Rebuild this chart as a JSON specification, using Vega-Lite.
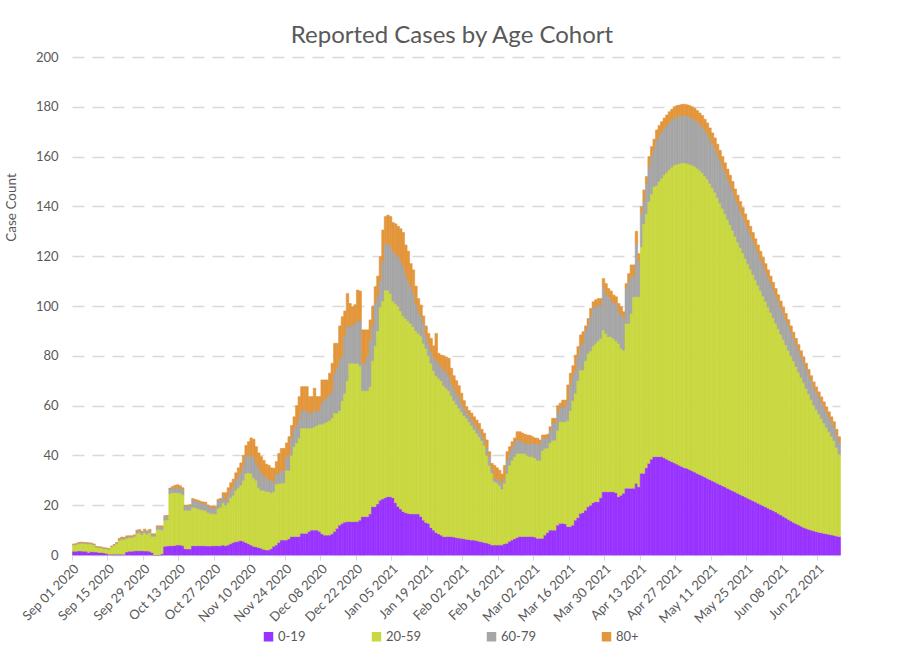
{
"$schema": "https://vega.github.io/schema/vega-lite/v6.json",
"width": 768, "height": 498,
"autosize": {"type": "none"},
"padding": {"left": 72, "top": 57, "right": 68, "bottom": 111},
"background": "white",
"config": {"view": {"stroke": null}},
"title": {"text": "Reported Cases by Age Cohort", "fontSize": 24, "font": "Lato", "fontWeight": "normal", "color": "#595959", "anchor": "middle", "offset": 3, "dx": -4},
"data": {"values": [
{"t":"2020-09-01","a":1.5,"b":2.5,"c":0.3,"d":0},
{"t":"2020-09-02","a":1.5,"b":2.7,"c":0.3,"d":0},
{"t":"2020-09-03","a":1.6,"b":3.0,"c":0.4,"d":0},
{"t":"2020-09-04","a":1.6,"b":3.1,"c":0.4,"d":0},
{"t":"2020-09-05","a":1.5,"b":3.2,"c":0.3,"d":0},
{"t":"2020-09-06","a":1.5,"b":3.0,"c":0.4,"d":0},
{"t":"2020-09-07","a":1.0,"b":3.5,"c":0.3,"d":0},
{"t":"2020-09-08","a":1.4,"b":3.0,"c":0.3,"d":0},
{"t":"2020-09-09","a":1.2,"b":2.8,"c":0.3,"d":0},
{"t":"2020-09-10","a":1.2,"b":2.0,"c":0.2,"d":0},
{"t":"2020-09-11","a":1.0,"b":2.0,"c":0.2,"d":0},
{"t":"2020-09-12","a":1.0,"b":1.9,"c":0.2,"d":0},
{"t":"2020-09-13","a":0.8,"b":1.8,"c":0.2,"d":0},
{"t":"2020-09-14","a":0.6,"b":1.9,"c":0.2,"d":0},
{"t":"2020-09-15","a":0.3,"b":2.0,"c":0.2,"d":0},
{"t":"2020-09-16","a":0.3,"b":3.0,"c":0.2,"d":0},
{"t":"2020-09-17","a":0.3,"b":3.6,"c":0.3,"d":0},
{"t":"2020-09-18","a":0.3,"b":4.3,"c":0.4,"d":0},
{"t":"2020-09-19","a":0.3,"b":5.5,"c":0.5,"d":0.4},
{"t":"2020-09-20","a":0.3,"b":6.0,"c":0.5,"d":0.4},
{"t":"2020-09-21","a":0.3,"b":6.0,"c":0.5,"d":0.3},
{"t":"2020-09-22","a":1.2,"b":5.6,"c":0.6,"d":0.3},
{"t":"2020-09-23","a":1.5,"b":5.5,"c":0.5,"d":0.2},
{"t":"2020-09-24","a":1.5,"b":5.5,"c":0.5,"d":0.2},
{"t":"2020-09-25","a":1.6,"b":5.8,"c":0.5,"d":0.2},
{"t":"2020-09-26","a":1.7,"b":7.0,"c":1.0,"d":0.3},
{"t":"2020-09-27","a":1.7,"b":7.2,"c":1.0,"d":0.3},
{"t":"2020-09-28","a":1.7,"b":6.5,"c":1.0,"d":0.3},
{"t":"2020-09-29","a":1.6,"b":7.5,"c":1.0,"d":0.3},
{"t":"2020-09-30","a":1.6,"b":6.8,"c":1.0,"d":0.3},
{"t":"2020-10-01","a":1.5,"b":7.5,"c":1.0,"d":0.3},
{"t":"2020-10-02","a":1.0,"b":6.5,"c":0.8,"d":0.2},
{"t":"2020-10-03","a":0,"b":7.5,"c":0.9,"d":0},
{"t":"2020-10-04","a":0,"b":10.3,"c":1.2,"d":0.2},
{"t":"2020-10-05","a":0,"b":10.3,"c":1.2,"d":0.2},
{"t":"2020-10-06","a":0.5,"b":9.5,"c":1.4,"d":0.3},
{"t":"2020-10-07","a":3.5,"b":10.5,"c":1.5,"d":0.3},
{"t":"2020-10-08","a":3.6,"b":10.5,"c":1.5,"d":0.3},
{"t":"2020-10-09","a":3.7,"b":21.0,"c":1.8,"d":0.4},
{"t":"2020-10-10","a":3.7,"b":21.3,"c":2.0,"d":0.5},
{"t":"2020-10-11","a":3.8,"b":21.3,"c":2.0,"d":0.9},
{"t":"2020-10-12","a":4.0,"b":21.0,"c":2.2,"d":1.0},
{"t":"2020-10-13","a":4.0,"b":21.0,"c":2.0,"d":0.8},
{"t":"2020-10-14","a":3.8,"b":20.5,"c":2.0,"d":0.7},
{"t":"2020-10-15","a":2.5,"b":15.5,"c":1.7,"d":0.3},
{"t":"2020-10-16","a":2.4,"b":15.6,"c":1.8,"d":0.3},
{"t":"2020-10-17","a":2.4,"b":15.6,"c":2.0,"d":0.2},
{"t":"2020-10-18","a":3.7,"b":15.5,"c":3.0,"d":0.5},
{"t":"2020-10-19","a":3.7,"b":15.3,"c":2.8,"d":0.5},
{"t":"2020-10-20","a":3.7,"b":15.0,"c":2.8,"d":0.5},
{"t":"2020-10-21","a":3.7,"b":14.6,"c":2.8,"d":0.5},
{"t":"2020-10-22","a":3.7,"b":14.4,"c":2.7,"d":0.5},
{"t":"2020-10-23","a":3.7,"b":14.2,"c":2.7,"d":0.6},
{"t":"2020-10-24","a":3.6,"b":13.5,"c":2.5,"d":0.5},
{"t":"2020-10-25","a":3.6,"b":13.0,"c":2.6,"d":0.5},
{"t":"2020-10-26","a":3.7,"b":13.0,"c":2.5,"d":0.5},
{"t":"2020-10-27","a":3.7,"b":12.8,"c":2.5,"d":0.5},
{"t":"2020-10-28","a":3.7,"b":15.0,"c":3.0,"d":0.7},
{"t":"2020-10-29","a":3.7,"b":15.5,"c":2.8,"d":0.7},
{"t":"2020-10-30","a":4.0,"b":17.0,"c":3.0,"d":1.0},
{"t":"2020-10-31","a":3.7,"b":16.3,"c":2,"d":3},
{"t":"2020-11-01","a":4,"b":17,"c":3,"d":3},
{"t":"2020-11-02","a":4.5,"b":18.5,"c":3,"d":3},
{"t":"2020-11-03","a":5,"b":19,"c":3.5,"d":3},
{"t":"2020-11-04","a":5.3,"b":20.7,"c":4,"d":3},
{"t":"2020-11-05","a":5.5,"b":21.5,"c":4.5,"d":3.5},
{"t":"2020-11-06","a":5.8,"b":22.2,"c":5,"d":4},
{"t":"2020-11-07","a":5.5,"b":24.5,"c":6,"d":4},
{"t":"2020-11-08","a":5.0,"b":27.8,"c":6.7,"d":4.5},
{"t":"2020-11-09","a":4.5,"b":28.5,"c":7,"d":5.5},
{"t":"2020-11-10","a":4.0,"b":28.8,"c":7.2,"d":7},
{"t":"2020-11-11","a":3.5,"b":27.5,"c":8.5,"d":7},
{"t":"2020-11-12","a":3.3,"b":26.7,"c":7,"d":6.5},
{"t":"2020-11-13","a":3.0,"b":24,"c":8,"d":6},
{"t":"2020-11-14","a":2.7,"b":23.3,"c":7,"d":6.5},
{"t":"2020-11-15","a":2.3,"b":23.7,"c":6,"d":6},
{"t":"2020-11-16","a":2.0,"b":23.5,"c":5.5,"d":5.5},
{"t":"2020-11-17","a":2.0,"b":23.5,"c":5,"d":5.5},
{"t":"2020-11-18","a":2.5,"b":22.5,"c":5,"d":5},
{"t":"2020-11-19","a":3.5,"b":22,"c":4,"d":5.3},
{"t":"2020-11-20","a":4.0,"b":24.5,"c":4,"d":5},
{"t":"2020-11-21","a":5.0,"b":23.8,"c":4,"d":8},
{"t":"2020-11-22","a":6.0,"b":22.8,"c":5,"d":9},
{"t":"2020-11-23","a":6.0,"b":23,"c":5,"d":8.8},
{"t":"2020-11-24","a":6.0,"b":28,"c":5.5,"d":5.5},
{"t":"2020-11-25","a":6.5,"b":27.5,"c":6,"d":7.5},
{"t":"2020-11-26","a":7.4,"b":32.6,"c":7,"d":5},
{"t":"2020-11-27","a":7.4,"b":36.1,"c":7.4,"d":4.6},
{"t":"2020-11-28","a":7.4,"b":37.6,"c":7,"d":8},
{"t":"2020-11-29","a":7.4,"b":39.6,"c":8,"d":8.6},
{"t":"2020-11-30","a":8.7,"b":42.3,"c":7,"d":9.6},
{"t":"2020-12-01","a":8.7,"b":42.3,"c":7,"d":9.6},
{"t":"2020-12-02","a":8.7,"b":42.3,"c":7,"d":9.6},
{"t":"2020-12-03","a":9.5,"b":41.5,"c":6,"d":6.6},
{"t":"2020-12-04","a":10,"b":41,"c":6,"d":6.6},
{"t":"2020-12-05","a":10,"b":41.5,"c":6.5,"d":9},
{"t":"2020-12-06","a":10,"b":42,"c":6,"d":5.6},
{"t":"2020-12-07","a":9.5,"b":43,"c":5.5,"d":5.6},
{"t":"2020-12-08","a":8.5,"b":44,"c":8.5,"d":9.3},
{"t":"2020-12-09","a":8,"b":45,"c":9.5,"d":7.8},
{"t":"2020-12-10","a":8,"b":45.5,"c":10.1,"d":6.7},
{"t":"2020-12-11","a":8,"b":46,"c":10,"d":9},
{"t":"2020-12-12","a":8.5,"b":46.5,"c":11,"d":11},
{"t":"2020-12-13","a":9.5,"b":47.5,"c":16,"d":12},
{"t":"2020-12-14","a":10.7,"b":46.3,"c":18,"d":10},
{"t":"2020-12-15","a":12,"b":46,"c":20,"d":14},
{"t":"2020-12-16","a":12.7,"b":49.3,"c":18,"d":15.7},
{"t":"2020-12-17","a":13.2,"b":51.8,"c":23,"d":10},
{"t":"2020-12-18","a":13.4,"b":56.6,"c":21.7,"d":13.3},
{"t":"2020-12-19","a":13.4,"b":63.6,"c":15,"d":9},
{"t":"2020-12-20","a":13.4,"b":63.6,"c":15,"d":7.7},
{"t":"2020-12-21","a":13.4,"b":63.6,"c":16,"d":7.5},
{"t":"2020-12-22","a":13.4,"b":63.6,"c":17,"d":12.4},
{"t":"2020-12-23","a":14,"b":62,"c":18,"d":12},
{"t":"2020-12-24","a":15.4,"b":50.6,"c":11,"d":13.4},
{"t":"2020-12-25","a":15.4,"b":50.6,"c":11,"d":13.4},
{"t":"2020-12-26","a":15.4,"b":50.6,"c":14,"d":10.4},
{"t":"2020-12-27","a":16.5,"b":51.1,"c":18.4,"d":8.4},
{"t":"2020-12-28","a":19.4,"b":58.6,"c":14,"d":8},
{"t":"2020-12-29","a":19.4,"b":64.6,"c":17,"d":6.8},
{"t":"2020-12-30","a":20.5,"b":69.5,"c":14,"d":8},
{"t":"2020-12-31","a":22,"b":77.7,"c":10.3,"d":9.8},
{"t":"2021-01-01","a":22.5,"b":79.5,"c":16,"d":12.5},
{"t":"2021-01-02","a":23,"b":83.4,"c":18.6,"d":10.9},
{"t":"2021-01-03","a":23.4,"b":83,"c":18.6,"d":11.5},
{"t":"2021-01-04","a":23.4,"b":81.6,"c":19,"d":11.9},
{"t":"2021-01-05","a":23,"b":79,"c":20,"d":11.5},
{"t":"2021-01-06","a":21,"b":80,"c":20,"d":12},
{"t":"2021-01-07","a":19.5,"b":80.5,"c":20,"d":12},
{"t":"2021-01-08","a":18.5,"b":79.5,"c":20,"d":13},
{"t":"2021-01-09","a":17.5,"b":78.5,"c":20,"d":13.5},
{"t":"2021-01-10","a":17,"b":78,"c":18,"d":11.5},
{"t":"2021-01-11","a":16.7,"b":77.3,"c":16,"d":12},
{"t":"2021-01-12","a":16.5,"b":76.5,"c":15,"d":9},
{"t":"2021-01-13","a":16.5,"b":75.2,"c":13.3,"d":9.5},
{"t":"2021-01-14","a":16.5,"b":73.5,"c":11,"d":7},
{"t":"2021-01-15","a":16.5,"b":72.5,"c":9,"d":5},
{"t":"2021-01-16","a":15.5,"b":72.5,"c":8,"d":4.4},
{"t":"2021-01-17","a":14,"b":71,"c":8,"d":3},
{"t":"2021-01-18","a":13,"b":70,"c":5,"d":4},
{"t":"2021-01-19","a":12.7,"b":67.3,"c":5,"d":4},
{"t":"2021-01-20","a":11,"b":66,"c":5,"d":5},
{"t":"2021-01-21","a":10,"b":64,"c":5.7,"d":4.3},
{"t":"2021-01-22","a":9,"b":63,"c":6,"d":11},
{"t":"2021-01-23","a":8.5,"b":62.5,"c":6,"d":4},
{"t":"2021-01-24","a":8,"b":62,"c":5.6,"d":4.7},
{"t":"2021-01-25","a":7.4,"b":60.6,"c":6.5,"d":5.5},
{"t":"2021-01-26","a":7.4,"b":59.6,"c":6.5,"d":6},
{"t":"2021-01-27","a":7.4,"b":58.6,"c":6,"d":7},
{"t":"2021-01-28","a":7.4,"b":56.6,"c":5,"d":6},
{"t":"2021-01-29","a":7.2,"b":54.8,"c":5,"d":5},
{"t":"2021-01-30","a":7,"b":53.5,"c":4.5,"d":5},
{"t":"2021-01-31","a":6.8,"b":52.2,"c":4.5,"d":4.5},
{"t":"2021-02-01","a":6.7,"b":50.8,"c":3.5,"d":4},
{"t":"2021-02-02","a":6.5,"b":49.5,"c":3,"d":3},
{"t":"2021-02-03","a":6.3,"b":48.7,"c":2.5,"d":2.1},
{"t":"2021-02-04","a":6.2,"b":47.3,"c":2.5,"d":2},
{"t":"2021-02-05","a":6,"b":46,"c":2.5,"d":2.5},
{"t":"2021-02-06","a":6,"b":44.5,"c":2.5,"d":2.5},
{"t":"2021-02-07","a":5.8,"b":43.2,"c":2.5,"d":2.7},
{"t":"2021-02-08","a":5.5,"b":42,"c":2.5,"d":2.9},
{"t":"2021-02-09","a":5.3,"b":40.7,"c":2.5,"d":2},
{"t":"2021-02-10","a":5,"b":39,"c":2.2,"d":2.7},
{"t":"2021-02-11","a":4.8,"b":35.2,"c":3,"d":3.2},
{"t":"2021-02-12","a":4.5,"b":31.5,"c":3.5,"d":2},
{"t":"2021-02-13","a":4,"b":29,"c":2,"d":1.8},
{"t":"2021-02-14","a":4,"b":25.5,"c":1.5,"d":5},
{"t":"2021-02-15","a":4,"b":25,"c":1.5,"d":4.5},
{"t":"2021-02-16","a":4,"b":24,"c":2,"d":4},
{"t":"2021-02-17","a":4,"b":22.5,"c":2.5,"d":3.5},
{"t":"2021-02-18","a":4.5,"b":24.3,"c":2.2,"d":5},
{"t":"2021-02-19","a":4.7,"b":28.1,"c":5.2,"d":3.5},
{"t":"2021-02-20","a":5.5,"b":30.5,"c":4.8,"d":2.7},
{"t":"2021-02-21","a":6,"b":32,"c":5,"d":2.5},
{"t":"2021-02-22","a":6.5,"b":33,"c":5.5,"d":2},
{"t":"2021-02-23","a":7,"b":33.8,"c":5.4,"d":3.3},
{"t":"2021-02-24","a":7.4,"b":33.4,"c":5.4,"d":3.3},
{"t":"2021-02-25","a":7.4,"b":33.4,"c":4.7,"d":3.5},
{"t":"2021-02-26","a":7.4,"b":33.4,"c":4.2,"d":3.5},
{"t":"2021-02-27","a":7.4,"b":32.6,"c":4.8,"d":3.4},
{"t":"2021-02-28","a":7.4,"b":32.1,"c":5.3,"d":3.2},
{"t":"2021-03-01","a":7.4,"b":32.1,"c":5.3,"d":2.7},
{"t":"2021-03-02","a":7.2,"b":31.8,"c":5.8,"d":2.2},
{"t":"2021-03-03","a":6.7,"b":31.3,"c":6.5,"d":2.4},
{"t":"2021-03-04","a":6.7,"b":31.3,"c":6.5,"d":1.7},
{"t":"2021-03-05","a":6.7,"b":35.3,"c":5,"d":1.2},
{"t":"2021-03-06","a":8,"b":34.8,"c":4.2,"d":1.2},
{"t":"2021-03-07","a":9,"b":34,"c":4,"d":1.5},
{"t":"2021-03-08","a":10,"b":35,"c":5,"d":1.5},
{"t":"2021-03-09","a":10,"b":36,"c":6.9,"d":2},
{"t":"2021-03-10","a":10,"b":36.2,"c":6.7,"d":2},
{"t":"2021-03-11","a":12,"b":38,"c":7,"d":3},
{"t":"2021-03-12","a":12.7,"b":40.8,"c":6.1,"d":1.4},
{"t":"2021-03-13","a":12.7,"b":40.8,"c":6.1,"d":2.6},
{"t":"2021-03-14","a":12.5,"b":41,"c":6.1,"d":2.6},
{"t":"2021-03-15","a":11.4,"b":42.6,"c":8,"d":6.3},
{"t":"2021-03-16","a":11.4,"b":46.6,"c":10,"d":5},
{"t":"2021-03-17","a":12,"b":50,"c":10,"d":4},
{"t":"2021-03-18","a":14,"b":51,"c":9.3,"d":6},
{"t":"2021-03-19","a":15,"b":55,"c":10,"d":3.7},
{"t":"2021-03-20","a":16.7,"b":57.6,"c":9.4,"d":4.7},
{"t":"2021-03-21","a":17,"b":57.3,"c":10.7,"d":4.7},
{"t":"2021-03-22","a":18,"b":60,"c":12,"d":2},
{"t":"2021-03-23","a":19.4,"b":61.6,"c":11.5,"d":2.5},
{"t":"2021-03-24","a":20,"b":62,"c":14,"d":3},
{"t":"2021-03-25","a":21,"b":63,"c":15,"d":2.7},
{"t":"2021-03-26","a":21.4,"b":63.6,"c":15,"d":2.5},
{"t":"2021-03-27","a":21.4,"b":64.6,"c":14.4,"d":2.6},
{"t":"2021-03-28","a":23,"b":64,"c":13.4,"d":2.6},
{"t":"2021-03-29","a":25.4,"b":65,"c":17.4,"d":3.2},
{"t":"2021-03-30","a":25.4,"b":63.6,"c":16,"d":4},
{"t":"2021-03-31","a":25.4,"b":62.3,"c":16.3,"d":3},
{"t":"2021-04-01","a":25.4,"b":62.3,"c":14.7,"d":3.6},
{"t":"2021-04-02","a":25.4,"b":61.6,"c":14.5,"d":2.9},
{"t":"2021-04-03","a":25,"b":61,"c":15,"d":2.7},
{"t":"2021-04-04","a":23.4,"b":61.6,"c":13,"d":3},
{"t":"2021-04-05","a":24,"b":59,"c":13.4,"d":3.3},
{"t":"2021-04-06","a":24.8,"b":57.5,"c":13.2,"d":2.2},
{"t":"2021-04-07","a":26.8,"b":66.2,"c":14,"d":2},
{"t":"2021-04-08","a":26.8,"b":66.2,"c":17,"d":3},
{"t":"2021-04-09","a":26.8,"b":70.2,"c":14.8,"d":4.7},
{"t":"2021-04-10","a":26.8,"b":76.9,"c":8.3,"d":4.5},
{"t":"2021-04-11","a":28.8,"b":75,"c":21.2,"d":5},
{"t":"2021-04-12","a":27.4,"b":76.3,"c":14.3,"d":3},
{"t":"2021-04-13","a":32.8,"b":91,"c":13.2,"d":3},
{"t":"2021-04-14","a":32.8,"b":100.2,"c":9,"d":4.6},
{"t":"2021-04-15","a":35,"b":102,"c":12,"d":3},
{"t":"2021-04-16","a":36.8,"b":105.2,"c":14,"d":4},
{"t":"2021-04-17","a":38.5,"b":106.5,"c":15,"d":4},
{"t":"2021-04-18","a":39.5,"b":108.5,"c":15,"d":4},
{"t":"2021-04-19","a":39.5,"b":109,"c":17.9,"d":4.3},
{"t":"2021-04-20","a":39.5,"b":110.6,"c":18.1,"d":4.3},
{"t":"2021-04-21","a":39.5,"b":111.8,"c":18.3,"d":4.4},
{"t":"2021-04-22","a":39,"b":113.7,"c":18.4,"d":4.4},
{"t":"2021-04-23","a":38.5,"b":115.2,"c":18.6,"d":4.4},
{"t":"2021-04-24","a":38,"b":116.8,"c":18.7,"d":4.5},
{"t":"2021-04-25","a":37.5,"b":118.2,"c":18.8,"d":4.5},
{"t":"2021-04-26","a":37,"b":119.6,"c":18.9,"d":4.5},
{"t":"2021-04-27","a":36.5,"b":120.5,"c":19,"d":4.5},
{"t":"2021-04-28","a":36,"b":121.2,"c":19,"d":4.5},
{"t":"2021-04-29","a":35.5,"b":122,"c":19,"d":4.5},
{"t":"2021-04-30","a":35,"b":122.5,"c":19,"d":4.5},
{"t":"2021-05-01","a":34.8,"b":122.5,"c":19,"d":4.5},
{"t":"2021-05-02","a":34.3,"b":122.7,"c":19,"d":4.5},
{"t":"2021-05-03","a":33.8,"b":122.8,"c":18.9,"d":4.5},
{"t":"2021-05-04","a":33.3,"b":122.8,"c":18.8,"d":4.5},
{"t":"2021-05-05","a":32.8,"b":122.5,"c":18.7,"d":4.5},
{"t":"2021-05-06","a":32.3,"b":122.2,"c":18.6,"d":4.4},
{"t":"2021-05-07","a":31.8,"b":121.8,"c":18.5,"d":4.4},
{"t":"2021-05-08","a":31.3,"b":120.9,"c":18.4,"d":4.4},
{"t":"2021-05-09","a":30.8,"b":120.2,"c":18.2,"d":4.3},
{"t":"2021-05-10","a":30.3,"b":118.9,"c":18,"d":4.3},
{"t":"2021-05-11","a":29.8,"b":117.7,"c":17.8,"d":4.2},
{"t":"2021-05-12","a":29.3,"b":116.4,"c":17.6,"d":4.2},
{"t":"2021-05-13","a":28.8,"b":114.8,"c":17.3,"d":4.1},
{"t":"2021-05-14","a":28.3,"b":113,"c":17.1,"d":4.1},
{"t":"2021-05-15","a":27.8,"b":111.4,"c":16.8,"d":4},
{"t":"2021-05-16","a":27.3,"b":109.8,"c":16.5,"d":3.9},
{"t":"2021-05-17","a":26.8,"b":108,"c":16.3,"d":3.9},
{"t":"2021-05-18","a":26.3,"b":106.4,"c":16,"d":3.8},
{"t":"2021-05-19","a":25.8,"b":104.6,"c":15.8,"d":3.8},
{"t":"2021-05-20","a":25.3,"b":102.6,"c":15.4,"d":3.7},
{"t":"2021-05-21","a":24.8,"b":100.9,"c":15.2,"d":3.6},
{"t":"2021-05-22","a":24.3,"b":99.2,"c":14.9,"d":3.6},
{"t":"2021-05-23","a":23.8,"b":97.6,"c":14.6,"d":3.5},
{"t":"2021-05-24","a":23.3,"b":95.9,"c":14.4,"d":3.4},
{"t":"2021-05-25","a":22.8,"b":94.2,"c":14.1,"d":3.4},
{"t":"2021-05-26","a":22.3,"b":92.5,"c":13.9,"d":3.3},
{"t":"2021-05-27","a":21.8,"b":90.9,"c":13.6,"d":3.2},
{"t":"2021-05-28","a":21.3,"b":89.2,"c":13.3,"d":3.2},
{"t":"2021-05-29","a":20.8,"b":87.5,"c":13.1,"d":3.1},
{"t":"2021-05-30","a":20.3,"b":85.8,"c":12.8,"d":3.1},
{"t":"2021-05-31","a":19.8,"b":84.2,"c":12.5,"d":3},
{"t":"2021-06-01","a":19.3,"b":82.5,"c":12.3,"d":2.9},
{"t":"2021-06-02","a":18.8,"b":80.8,"c":12,"d":2.9},
{"t":"2021-06-03","a":18.3,"b":79.1,"c":11.8,"d":2.8},
{"t":"2021-06-04","a":17.8,"b":77.5,"c":11.5,"d":2.7},
{"t":"2021-06-05","a":17.3,"b":75.8,"c":11.2,"d":2.7},
{"t":"2021-06-06","a":16.7,"b":74.2,"c":11,"d":2.6},
{"t":"2021-06-07","a":16.1,"b":72.6,"c":10.7,"d":2.6},
{"t":"2021-06-08","a":15.5,"b":71.1,"c":10.4,"d":2.5},
{"t":"2021-06-09","a":14.9,"b":69.5,"c":10.2,"d":2.4},
{"t":"2021-06-10","a":14.3,"b":67.9,"c":9.9,"d":2.4},
{"t":"2021-06-11","a":13.7,"b":66.3,"c":9.7,"d":2.3},
{"t":"2021-06-12","a":13.1,"b":64.8,"c":9.4,"d":2.2},
{"t":"2021-06-13","a":12.6,"b":63.1,"c":9.1,"d":2.2},
{"t":"2021-06-14","a":12.1,"b":61.4,"c":8.9,"d":2.1},
{"t":"2021-06-15","a":11.6,"b":59.7,"c":8.6,"d":2.1},
{"t":"2021-06-16","a":11.1,"b":58.1,"c":8.3,"d":2},
{"t":"2021-06-17","a":10.7,"b":56.2,"c":8.1,"d":2},
{"t":"2021-06-18","a":10.3,"b":54.4,"c":7.8,"d":2},
{"t":"2021-06-19","a":10,"b":52.4,"c":7.6,"d":2},
{"t":"2021-06-20","a":9.7,"b":50.5,"c":7.3,"d":2},
{"t":"2021-06-21","a":9.4,"b":49,"c":7.1,"d":2},
{"t":"2021-06-22","a":9.1,"b":47.5,"c":6.9,"d":2},
{"t":"2021-06-23","a":8.9,"b":45.9,"c":6.7,"d":2},
{"t":"2021-06-24","a":8.7,"b":44.3,"c":6.5,"d":2},
{"t":"2021-06-25","a":8.5,"b":42.8,"c":6.2,"d":2},
{"t":"2021-06-26","a":8.3,"b":41.2,"c":6,"d":2},
{"t":"2021-06-27","a":8.1,"b":39.6,"c":5.8,"d":2},
{"t":"2021-06-28","a":7.9,"b":38,"c":5.6,"d":2},
{"t":"2021-06-29","a":7.6,"b":35.6,"c":5.3,"d":2},
{"t":"2021-06-30","a":7.4,"b":33.1,"c":5,"d":2}
]},
"transform": [{"fold": ["a", "b", "c", "d"], "as": ["k", "v"]}],
"mark": {"type": "bar", "binSpacing": 0, "strokeWidth": 0.6, "strokeOpacity": 1},
"encoding": {
  "x": {"field": "t", "type": "temporal", "timeUnit": "utcyearmonthdate", "title": null,
    "scale": {"domain": [{"year": 2020, "month": 9, "date": 1, "utc": true}, {"year": 2021, "month": 7, "date": 1, "utc": true}]},
    "axis": {"values": [
      {"year": 2020, "month": 9, "date": 1, "utc": true},
      {"year": 2020, "month": 9, "date": 15, "utc": true},
      {"year": 2020, "month": 9, "date": 29, "utc": true},
      {"year": 2020, "month": 10, "date": 13, "utc": true},
      {"year": 2020, "month": 10, "date": 27, "utc": true},
      {"year": 2020, "month": 11, "date": 10, "utc": true},
      {"year": 2020, "month": 11, "date": 24, "utc": true},
      {"year": 2020, "month": 12, "date": 8, "utc": true},
      {"year": 2020, "month": 12, "date": 22, "utc": true},
      {"year": 2021, "month": 1, "date": 5, "utc": true},
      {"year": 2021, "month": 1, "date": 19, "utc": true},
      {"year": 2021, "month": 2, "date": 2, "utc": true},
      {"year": 2021, "month": 2, "date": 16, "utc": true},
      {"year": 2021, "month": 3, "date": 2, "utc": true},
      {"year": 2021, "month": 3, "date": 16, "utc": true},
      {"year": 2021, "month": 3, "date": 30, "utc": true},
      {"year": 2021, "month": 4, "date": 13, "utc": true},
      {"year": 2021, "month": 4, "date": 27, "utc": true},
      {"year": 2021, "month": 5, "date": 11, "utc": true},
      {"year": 2021, "month": 5, "date": 25, "utc": true},
      {"year": 2021, "month": 6, "date": 8, "utc": true},
      {"year": 2021, "month": 6, "date": 22, "utc": true}],
      "labelExpr": "utcFormat(datum.value, '%b %d %Y')",
      "labelAngle": -45, "labelFont": "Lato", "labelFontSize": 13, "labelColor": "#595959",
      "labelFlush": false, "labelOverlap": false, "labelPadding": 2,
      "tickColor": "#d9d9d9", "tickSize": 5, "domainColor": "#d9d9d9", "grid": false}},
  "y": {"field": "v", "type": "quantitative", "stack": "zero",
    "scale": {"domain": [0, 200]},
    "axis": {"values": [0, 20, 40, 60, 80, 100, 120, 140, 160, 180, 200], "title": "Case Count",
      "titleFont": "Lato", "titleFontSize": 13.5, "titleFontWeight": "normal", "titleColor": "#595959",
      "titleX": -54, "titleY": 150, "titleAngle": -90, "titleAlign": "center", "titleBaseline": "bottom",
      "labelFont": "Lato", "labelFontSize": 13, "labelColor": "#595959", "labelPadding": 14,
      "domain": false, "ticks": false, "gridDash": [12, 8], "gridColor": "#d9d9d9", "gridWidth": 1.5}},
  "color": {"field": "k", "type": "nominal",
    "scale": {"domain": ["a", "b", "c", "d"], "range": ["#9933ff", "#c9d840", "#a6a6a6", "#e3963a"]},
    "legend": {"orient": "none", "legendX": 190, "legendY": 573, "direction": "horizontal", "title": null,
      "symbolType": "square", "symbolSize": 90, "symbolStrokeWidth": 0, "labelFont": "Lato", "labelFontSize": 13,
      "labelColor": "#595959", "columnPadding": 64, "labelOffset": 3,
      "labelExpr": "datum.label == 'a' ? '0-19' : datum.label == 'b' ? '20-59' : datum.label == 'c' ? '60-79' : '80+'"}},
  "stroke": {"field": "k", "type": "nominal", "legend": null,
    "scale": {"domain": ["a", "b", "c", "d"], "range": ["#9933ff", "#c9d840", "#a6a6a6", "#e3963a"]}},
  "order": {"field": "k", "sort": "ascending"}
}
}
